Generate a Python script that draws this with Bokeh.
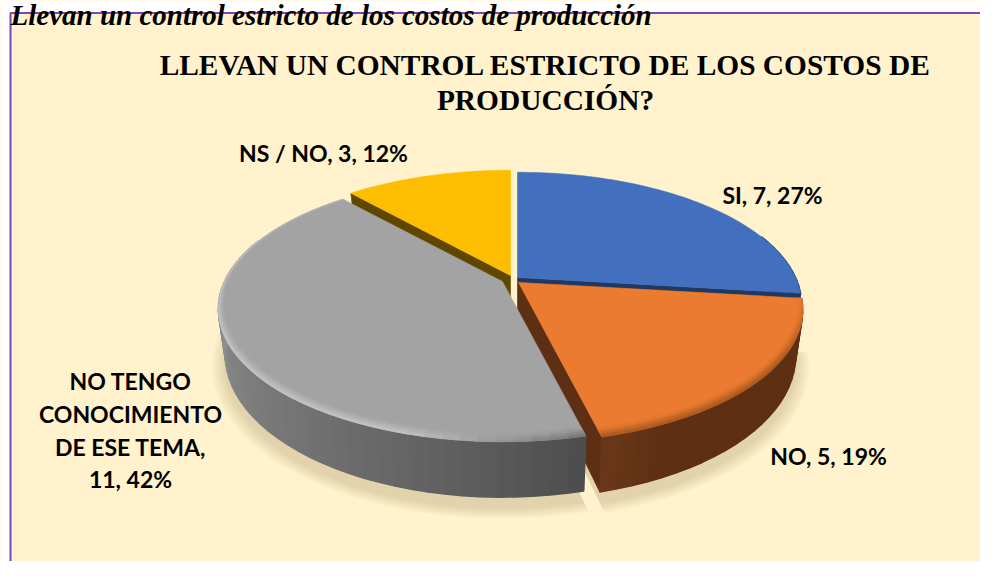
import math
from bokeh.core.properties import value
from bokeh.embed import file_html
from bokeh.models import ColumnDataSource, Range1d
from bokeh.plotting import figure
from bokeh.resources import INLINE

# ---- data ----
categories = ["SI", "NO", "NO TENGO CONOCIMIENTO DE ESE TEMA", "NS / NO"]
values = [7, 5, 11, 3]
percents = [27, 19, 42, 12]
heading = "Llevan un control estricto de los costos de producción"
title_lines = ["LLEVAN UN CONTROL ESTRICTO DE LOS COSTOS DE", "PRODUCCIÓN?"]

# ---- style / layout ----
top_colors = ["#4270BE", "#EA7B30", "#A3A3A3", "#FDBD00"]
cut_colors = ["#1F3864", "#5E2F13", "#555555", "#5F4700"]
apexes = [(517, 277), (518, 282), (502, 281), (510, 275)]
SX, SY, PERSP, DEPTH, SHRINK = 278, 127, 0.207, 44, 0.025


def proj(t_deg, r, z, apex):
    t = math.radians(t_deg)
    X, Y = r * math.sin(t), -r * math.cos(t)
    k = 1 / (1 - PERSP * Y)
    return (apex[0] + SX * X * k * (1 - SHRINK * z),
            apex[1] + SY * Y * k + DEPTH * z * k)


def mix(c1, c2, f):
    f = max(0.0, min(1.0, f))
    a = [int(c1[i:i + 2], 16) for i in (1, 3, 5)]
    b = [int(c2[i:i + 2], 16) for i in (1, 3, 5)]
    return "#%02x%02x%02x" % tuple(round(u + (v - u) * f) for u, v in zip(a, b))


total = sum(values)
edges = [0.0]
for v in values:
    edges.append(edges[-1] + 360.0 * v / total)
spans = list(zip(edges[:-1], edges[1:]))


def frange(a, b, step=1.5):
    n = max(1, int(math.ceil((b - a) / step)))
    return [a + (b - a) * i / n for i in range(n + 1)]


xs, ys, cols, lw = [], [], [], []


def add(points, color, width=0.6):
    xs.append([q[0] for q in points])
    ys.append([q[1] for q in points])
    cols.append(color)
    lw.append(width)


def cut(i, t):
    ap = apexes[i]
    add([proj(t, 0, 0, ap), proj(t, 1, 0, ap), proj(t, 1, 1, ap), proj(t, 0, 1, ap)], cut_colors[i])


def side(i, color_fn):
    ap = apexes[i]
    a, b = spans[i]
    ts = frange(max(a, 70), min(b, 290), 3.0)
    for t0, t1 in zip(ts[:-1], ts[1:]):
        add([proj(t0, 1, 0, ap), proj(t1, 1, 0, ap), proj(t1, 1, 1, ap), proj(t0, 1, 1, ap)],
            color_fn((t0 + t1) / 2), 1.6)


def top(i):
    ap = apexes[i]
    a, b = spans[i]
    add([proj(a, 0, 0, ap)] + [proj(t, 1, 0, ap) for t in frange(a, b)], top_colors[i])


def rim(i, outer_fn):
    ap = apexes[i]
    a, b = spans[i]
    ts = frange(a, b, 3.0)
    bands = 5
    for j in range(bands):
        for t0, t1 in zip(ts[:-1], ts[1:]):
            tm = (t0 + t1) / 2
            Y = -math.cos(math.radians(tm))
            w = 0.012 + 0.035 * max(Y, 0)
            r0, r1 = 1 - w * j / bands, 1 - w * (j + 1) / bands
            add([proj(t0, r0, 0, ap), proj(t1, r0, 0, ap), proj(t1, r1, 0, ap), proj(t0, r1, 0, ap)],
                mix(outer_fn(tm), top_colors[i], (j + 0.5) / bands), 0.8)


def grey_side(t):
    f = (t - edges[2]) / (280 - edges[2])
    return mix("#4C4C4C", "#989898", f ** 0.85)


def orange_side(t):
    return mix("#5E2F13", "#6B3817", (t - 155) / 11)


def grey_rim(t):
    return mix("#6E6E6E", "#C6C6C6", (t - edges[2]) / 30)


def orange_rim(t):
    return mix("#EA7B30", "#A3561F", (t - 95) / 25) if t < 120 else "#A3561F"


# soft shadow, drawn first
sh_x, sh_y = [], []
for grow in (1.05, 1.04, 1.03, 1.02, 1.01):
    for i in (1, 2):
        ap = apexes[i]
        a, b = spans[i]
        pts = [(proj(a, 0, 1.18, ap))] + [proj(t, grow, 1.18, ap) for t in frange(a, b)]
        sh_x.append([q[0] for q in pts])
        sh_y.append([q[1] for q in pts])

side(0, lambda t: cut_colors[0])
cut(0, edges[1])
cut(3, edges[3])
cut(1, edges[1])
cut(1, edges[2])
side(1, orange_side)
side(2, grey_side)
top(3)
top(0)
top(1)
rim(1, orange_rim)
top(2)
rim(2, grey_rim)

# ---- figure: data space equals picture pixels ----
p = figure(width=980, height=561, output_backend="svg", toolbar_location=None,
           x_range=Range1d(0, 980), y_range=Range1d(561, 0), min_border=0,
           background_fill_color="#FFF2CC", border_fill_color="#FFF2CC")
p.axis.visible = False
p.grid.visible = False
p.outline_line_color = None

p.quad(left=[0, 0], right=[980, 10], top=[0, 0], bottom=[12, 561], fill_color="#FFFFFF", line_color=None)
p.segment(x0=[10, 10], y0=[12.5, 12], x1=[980, 10], y1=[12.5, 561], line_color="#7B45B5", line_width=2)

p.patches(sh_x, sh_y, fill_color="#8A7A4A", fill_alpha=0.05, line_color=None)
p.patches("x", "y", fill_color="c", line_color="c", line_width="w",
          source=ColumnDataSource(dict(x=xs, y=ys, c=cols, w=lw)))

p.text([10], [14], text=[heading], text_font=value("Liberation Serif"), text_font_style="bold italic",
       text_font_size="29px", text_color="#000000", text_align="left", text_baseline="middle")
p.text([545, 545], [64, 99], text=title_lines, text_font=value("Liberation Serif"), text_font_style="bold",
       text_font_size="29.4px", text_color="#000000", text_align="center", text_baseline="middle")

lab = [f"{c}, {v}, {q}%" for c, v, q in zip(categories, values, percents)]
wrapped = lab[2].replace("NO TENGO CONOCIMIENTO DE ESE TEMA", "NO TENGO\nCONOCIMIENTO\nDE ESE TEMA").replace("TEMA, ", "TEMA,\n").split("\n")
label_text = [lab[0], lab[1], lab[3]] + wrapped
label_x = [772, 828, 323, 130, 130, 130, 130]
label_y = [194, 455, 152, 380, 413, 446, 478]
p.text(label_x, label_y, text=label_text, text_font=value("Lato"), text_font_style="bold",
       text_font_size="23px", text_color="#000000", text_align="center", text_baseline="middle")

open("out.html", "w").write(file_html(p, INLINE))
